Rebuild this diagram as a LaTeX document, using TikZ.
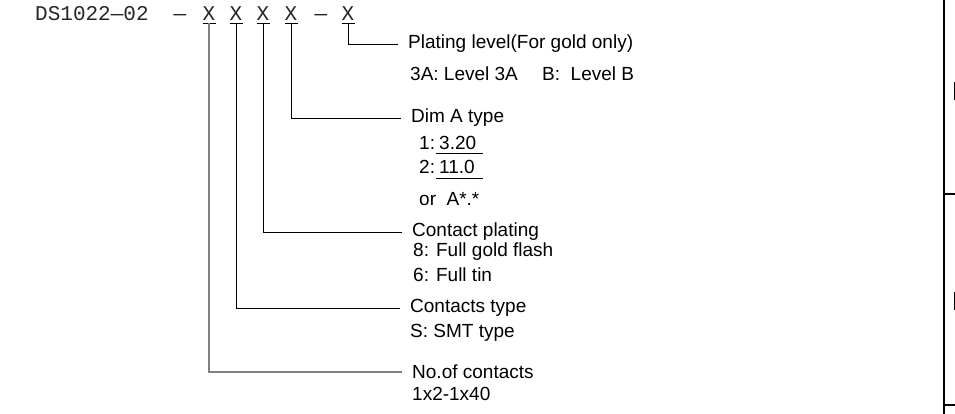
\documentclass[tikz,border=0pt]{standalone}
\usepackage{fontspec}
\setmainfont{Liberation Sans}
\newfontfamily\codefont{Liberation Mono}
\begin{document}
\begin{tikzpicture}[x=1pt,y=-1pt,
  code/.style={font=\codefont\fontsize{21}{21}\selectfont, text=black!85, inner sep=0pt, anchor=base},
  head/.style={font=\fontsize{19}{22}\selectfont, anchor=west, inner ysep=0pt, inner xsep=10pt},
  sub/.style={font=\fontsize{19}{22}\selectfont, anchor=west, inner sep=0pt},
  lead/.style={black, line width=0.8pt},
  frame/.style={black, line width=1.6pt}]
\useasboundingbox (0,0) rectangle (955,414);

% part number
\node[code, anchor=base west] (pn) at (35,21) {DS1022\textemdash02};
\node[code] (d1) at (180,21) {\textemdash};
\node[code] (x1) at (209,21) {X};
\node[code] (x2) at (236,21) {X};
\node[code] (x3) at (263,21) {X};
\node[code] (x4) at (291,21) {X};
\node[code] (d2) at (321,21) {\textemdash};
\node[code] (x5) at (348,21) {X};
\draw[lead] ([yshift=-2pt]x1.base west) -- ([yshift=-2pt]x1.base east);
\draw[lead] ([yshift=-2pt]x2.base west) -- ([yshift=-2pt]x2.base east);
\draw[lead] ([yshift=-2pt]x3.base west) -- ([yshift=-2pt]x3.base east);
\draw[lead] ([yshift=-2pt]x4.base west) -- ([yshift=-2pt]x4.base east);
\draw[lead] ([yshift=-2pt]x5.base west) -- ([yshift=-2pt]x5.base east);

% headings
\node[head] (plat) at (398,44) {Plating level(For gold only)};
\node[head] (dim) at (401,118) {Dim A type};
\node[head] (cplat) at (402,232) {Contact plating};
\node[head] (ctype) at (400,308) {Contacts type};
\node[head] (ncont) at (402,372) {No.of contacts};

% leaders
\draw[lead] ([yshift=-2pt]x5.base) |- (plat.west);
\draw[lead] ([yshift=-2pt]x4.base) |- (dim.west);
\draw[lead] ([yshift=-2pt]x3.base) |- (cplat.west);
\draw[lead] ([yshift=-2pt]x2.base) |- (ctype.west);
\draw[gray, line width=1.4pt] ([yshift=-2pt]x1.base) |- (ncont.west);

% options
\node[sub] (platA) at (410,74) {3A: Level 3A};
\node[sub] (platB) at (542,74) {B:\ \ Level B};
\node[sub] (dim1) at (419,143) {1:};
\node[sub] (dim1v) at (439,143) {3.20};
\draw[lead] (436,153) -- (483,153);
\node[sub] (dim2) at (419,167) {2:};
\node[sub] (dim2v) at (439,167) {11.0};
\draw[lead] (436,178) -- (483,178);
\node[sub] (dim3) at (419,199) {or\ \ A*.*};
\node[sub] (cplat8) at (413,252) {8: Full gold flash};
\node[sub] (cplat6) at (413,275) {6: Full tin};
\node[sub] (ctypeS) at (410,333) {S: SMT type};
\node[sub] (ncontR) at (412,394) {1x2-1x40};

% frame at right
\draw[frame] (944,0) -- (944,414);
\draw[frame] (944,194) -- (955,194);
\draw[frame] (944,405) -- (955,405);
\draw[lead] (954,82) -- (954,100);
\draw[lead] (954,292) -- (954,310);
\end{tikzpicture}
\end{document}
